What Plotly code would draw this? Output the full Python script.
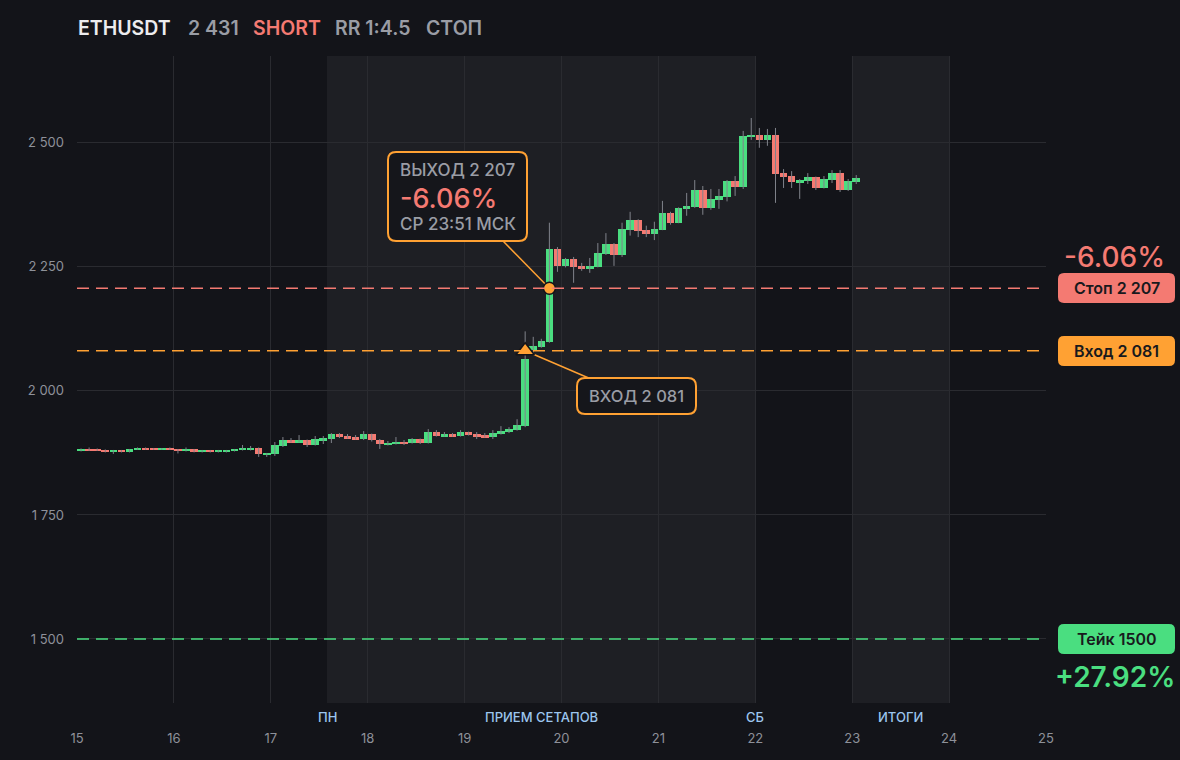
import plotly.graph_objects as go

# ETHUSDT, 2h candles starting on the 15th
opens = [1879, 1883, 1881, 1880, 1877, 1880, 1877, 1882, 1885, 1884, 1882, 1885,
         1882, 1879, 1882, 1877, 1880, 1877, 1877, 1879, 1881, 1881, 1885, 1871,
         1873, 1889, 1901, 1897, 1901, 1891, 1901, 1903, 1913, 1909, 1907, 1903,
         1913, 1901, 1891, 1893, 1897, 1895, 1903, 1895, 1917, 1909, 1913, 1909,
         1917, 1913, 1911, 1907, 1913, 1917, 1921, 1929, 2083, 2089, 2099, 2286,
         2252, 2266, 2252, 2246, 2250, 2276, 2296, 2274, 2325, 2345, 2325, 2317,
         2325, 2359, 2339, 2367, 2371, 2405, 2369, 2385, 2391, 2423, 2411, 2512,
         2516, 2506, 2516, 2439, 2433, 2421, 2423, 2431, 2409, 2425, 2439, 2405, 2421]
highs = [1884, 1886, 1884, 1882, 1881, 1881, 1883, 1886, 1886, 1885, 1885, 1886,
         1883, 1886, 1883, 1881, 1881, 1881, 1881, 1883, 1891, 1889, 1886, 1875,
         1897, 1907, 1905, 1911, 1902, 1909, 1909, 1915, 1915, 1913, 1911, 1919,
         1914, 1903, 1899, 1907, 1901, 1905, 1904, 1923, 1921, 1917, 1915, 1921,
         1918, 1917, 1915, 1921, 1929, 1927, 1943, 2120, 2109, 2105, 2339, 2290,
         2268, 2270, 2258, 2268, 2298, 2318, 2298, 2339, 2361, 2346, 2333, 2341,
         2383, 2361, 2370, 2399, 2425, 2413, 2407, 2407, 2425, 2433, 2524, 2550,
         2530, 2528, 2530, 2447, 2443, 2427, 2439, 2432, 2433, 2445, 2445, 2427, 2435]
lows = [1878, 1879, 1879, 1876, 1873, 1876, 1876, 1881, 1881, 1881, 1881, 1881,
        1874, 1878, 1876, 1876, 1876, 1876, 1876, 1878, 1880, 1880, 1867, 1867,
        1869, 1887, 1896, 1896, 1887, 1890, 1893, 1895, 1905, 1904, 1902, 1901,
        1898, 1883, 1890, 1892, 1891, 1894, 1893, 1894, 1908, 1908, 1908, 1908,
        1910, 1903, 1906, 1903, 1912, 1915, 1920, 1927, 2075, 2087, 2097, 2240,
        2249, 2218, 2242, 2238, 2249, 2274, 2252, 2270, 2313, 2310, 2310, 2304,
        2324, 2335, 2338, 2353, 2369, 2355, 2365, 2367, 2382, 2393, 2407, 2506,
        2490, 2494, 2379, 2409, 2409, 2387, 2417, 2405, 2408, 2419, 2401, 2403, 2417]
closes = [1883, 1880, 1879, 1877, 1880, 1877, 1883, 1885, 1882, 1882, 1885, 1882,
          1879, 1882, 1877, 1880, 1877, 1880, 1880, 1883, 1885, 1885, 1873, 1873,
          1891, 1901, 1897, 1901, 1891, 1903, 1905, 1913, 1907, 1905, 1903, 1913,
          1901, 1893, 1895, 1897, 1893, 1903, 1895, 1917, 1909, 1913, 1909, 1917,
          1911, 1909, 1907, 1915, 1919, 1923, 1931, 2065, 2091, 2101, 2286, 2252,
          2266, 2250, 2246, 2252, 2278, 2296, 2274, 2327, 2345, 2323, 2317, 2327,
          2359, 2339, 2369, 2373, 2405, 2369, 2387, 2393, 2423, 2411, 2514, 2516,
          2506, 2516, 2437, 2431, 2421, 2425, 2431, 2409, 2427, 2439, 2405, 2423, 2430]

day_ticks = list(range(15, 26))
price_ticks = [1500, 1750, 2000, 2250, 2500]

entry_price = 2081
stop_price = 2207
take_price = 1500
entry_bar = 55
exit_bar = 58

shaded_days = [(17.58, 22), (23, 24)]
session_labels = ["ПН", "ПРИЕМ СЕТАПОВ", "СБ", "ИТОГИ"]
session_days = [17.58, 19.79, 22, 23.5]

BG = "#131419"
SHADE = "#1e1f24"
GRID = "#2a2b30"
GREEN = "#4ade80"
RED = "#f47a72"
ORANGE = "#ffa133"
GREY = "#9a9da5"
FONT = "Inter"

W, H = 1180, 760
ML, MR, MT, MB = 77, 134, 56, 57
PW, PH = W - ML - MR, H - MT - MB
XR = [15, 25]
YR = [1371, 2675]


def px(x):
    return (x - ML) / PW


def py(y):
    return (H - MB - y) / PH


def dx(x):
    return XR[0] + (x - ML) / PW * (XR[1] - XR[0])


def dy(y):
    return YR[1] - (y - MT) / PH * (YR[1] - YR[0])


def rounded(x0, y0, x1, y1, r):
    a = lambda x, y: f"{px(x):.5f},{py(y):.5f}"
    return ("M " + a(x0 + r, y0) + " L " + a(x1 - r, y0) + " Q " + a(x1, y0) + " " + a(x1, y0 + r)
            + " L " + a(x1, y1 - r) + " Q " + a(x1, y1) + " " + a(x1 - r, y1)
            + " L " + a(x0 + r, y1) + " Q " + a(x0, y1) + " " + a(x0, y1 - r)
            + " L " + a(x0, y0 + r) + " Q " + a(x0, y0) + " " + a(x0 + r, y0) + " Z")


xs = [15 + (i + 0.5) / 12 for i in range(len(opens))]

wick_x, wick_y = [], []
for x, l, h in zip(xs, lows, highs):
    wick_x += [x, x, None]
    wick_y += [l, h, None]

fig = go.Figure()
fig.add_trace(go.Scatter(x=wick_x, y=wick_y, mode="lines",
                         line=dict(color="#80838b", width=1), hoverinfo="skip"))
fig.add_trace(go.Bar(
    x=xs,
    y=[abs(c - o) for o, c in zip(opens, closes)],
    base=[min(o, c) for o, c in zip(opens, closes)],
    width=0.94 / 12,
    marker=dict(color=[GREEN if c >= o else RED for o, c in zip(opens, closes)], line_width=0),
))
fig.add_trace(go.Scatter(x=[xs[entry_bar]], y=[entry_price], mode="markers",
                         marker=dict(symbol="triangle-up", size=16, color=ORANGE,
                                     line=dict(color=BG, width=1.5))))
fig.add_trace(go.Scatter(x=[xs[exit_bar]], y=[stop_price], mode="markers",
                         marker=dict(symbol="circle", size=12, color=ORANGE,
                                     line=dict(color=BG, width=1.5))))

shapes = []
for a, b in shaded_days:
    shapes.append(dict(type="rect", xref="x", yref="paper", x0=a, x1=b, y0=0, y1=1,
                       fillcolor=SHADE, line_width=0, layer="below"))
for lvl, col in [(stop_price, RED), (entry_price, ORANGE), (take_price, GREEN)]:
    shapes.append(dict(type="line", xref="paper", yref="y", x0=0, x1=1, y0=lvl, y1=lvl,
                       line=dict(color=col, width=1.6, dash="12px,7px"), layer="above"))
# connectors
shapes.append(dict(type="line", xref="x", yref="y", x0=xs[exit_bar], y0=stop_price,
                   x1=dx(503), y1=dy(241), line=dict(color=ORANGE, width=1.5), layer="between"))
shapes.append(dict(type="line", xref="x", yref="y", x0=xs[entry_bar], y0=entry_price,
                   x1=dx(591), y1=dy(379), line=dict(color=ORANGE, width=1.5), layer="between"))
# callout boxes
shapes.append(dict(type="path", xref="paper", yref="paper", path=rounded(388, 152, 527, 241, 8),
                   fillcolor="#15161b", line=dict(color=ORANGE, width=2), layer="above"))
shapes.append(dict(type="path", xref="paper", yref="paper", path=rounded(577, 378, 696, 414, 8),
                   fillcolor="#15161b", line=dict(color=ORANGE, width=2), layer="above"))
# right side pills
for yc, col in [(288, RED), (351, ORANGE), (639, GREEN)]:
    shapes.append(dict(type="path", xref="paper", yref="paper",
                       path=rounded(1058, yc - 15, 1175, yc + 15, 6),
                       fillcolor=col, line_width=0, layer="above"))


def note(text, x, y, size, color, weight=600, xanchor="left", xref="paper"):
    return dict(text=text, x=x, y=py(y), xref=xref, yref="paper",
                xanchor=xanchor, yanchor="middle", showarrow=False,
                font=dict(family=FONT, size=size, color=color, weight=weight))


annotations = [
    note("ETHUSDT", px(76), 28, 19.5, "#ececee"),
    note("2 431", px(186), 28, 19.5, GREY),
    note("SHORT", px(251), 28, 19.5, RED),
    note("RR 1:4.5", px(333), 28, 19.5, GREY),
    note("СТОП", px(424), 28, 19.5, GREY),
    note("ВЫХОД 2 207", px(398), 170, 17, GREY, 500),
    note("-6.06%", px(398), 199, 27, RED, 500),
    note("СР 23:51 МСК", px(398), 224, 17, GREY, 500),
    note("ВХОД 2 081", px(636.5), 396, 16.5, GREY, 500, xanchor="center"),
    note("-6.06%", px(1167), 257, 28, RED, 500, xanchor="right"),
    note("Стоп 2 207", px(1116.5), 288, 16, "#18191d", xanchor="center"),
    note("Вход 2 081", px(1116.5), 351, 16, "#18191d", xanchor="center"),
    note("Тейк 1500", px(1116.5), 639, 16, "#18191d", xanchor="center"),
    note("+27.92%", px(1177), 677, 28, GREEN, 600, xanchor="right"),
]
for lab, d in zip(session_labels, session_days):
    annotations.append(note(lab, d, 717, 13, "#9cc6ee", 500, xanchor="center", xref="x"))

fig.update_layout(
    width=W, height=H,
    margin=dict(l=ML, r=MR, t=MT, b=MB),
    paper_bgcolor=BG, plot_bgcolor=BG,
    showlegend=False,
    separators=". ",
    font=dict(family=FONT, color=GREY),
    shapes=shapes,
    annotations=annotations,
    bargap=0,
)
fig.update_xaxes(range=XR, tickvals=day_ticks, showgrid=True, gridcolor=GRID, gridwidth=1,
                 zeroline=False, showline=False, ticks="", ticklabelstandoff=26,
                 tickfont=dict(family=FONT, size=13, color="#8e9199"), fixedrange=True)
fig.update_yaxes(range=YR, tickvals=price_ticks, tickformat=",d", showgrid=True,
                 gridcolor=GRID, gridwidth=1, zeroline=False, showline=False, ticks="",
                 ticklabelstandoff=12, tickfont=dict(family=FONT, size=13, color="#8e9199"),
                 fixedrange=True)

fig.write_html("out.html", config={"displayModeBar": False},
               post_script="document.body.style.margin='0';"
               "document.body.style.background='#131419';")
